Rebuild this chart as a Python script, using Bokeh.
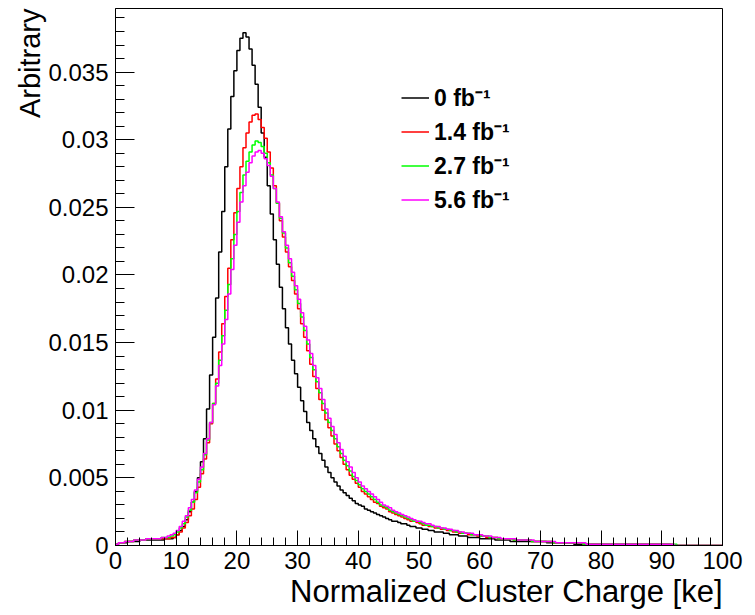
from bokeh.plotting import figure
from bokeh.models import (Range1d, SingleIntervalTicker, NumeralTickFormatter,
                          Legend, LegendItem, Title)
from bokeh.embed import file_html
from bokeh.resources import INLINE

# ---------------- data (normalised histograms, 0.5 ke bins from 0 to 100) ----
bin_width = 0.5
n_bins = 200
edges = [i * bin_width for i in range(n_bins + 1)]

labels = ["0 fb\u207b\u00b9", "1.4 fb\u207b\u00b9", "2.7 fb\u207b\u00b9", "5.6 fb\u207b\u00b9"]
colors = ["#000000", "#ff0000", "#00ff00", "#ff00ff"]

lumi_0 = [
    0.0001, 0.0002, 0.0002, 0.0002, 0.0003, 0.0003, 0.0003, 0.0003, 0.0004, 0.0004,
    0.0004, 0.0004, 0.0004, 0.0004, 0.0004, 0.0004, 0.0005, 0.0005, 0.0005, 0.0006,
    0.0008, 0.0011, 0.0014, 0.0019, 0.0025, 0.0032, 0.0040, 0.0050, 0.0062, 0.0079,
    0.0101, 0.0126, 0.0154, 0.0183, 0.0217, 0.0247, 0.0280, 0.0308, 0.0332, 0.0351,
    0.0366, 0.0375, 0.0379, 0.0376, 0.0367, 0.0355, 0.0341, 0.0324, 0.0305, 0.0287,
    0.0266, 0.0245, 0.0226, 0.0208, 0.0191, 0.0175, 0.0161, 0.0149, 0.0137, 0.0127,
    0.0117, 0.0107, 0.0099, 0.0091, 0.0085, 0.0079, 0.0073, 0.0068, 0.0063, 0.0058,
    0.0054, 0.0050, 0.0047, 0.0044, 0.0041, 0.0039, 0.0037, 0.0035, 0.0033, 0.0031,
    0.0030, 0.0029, 0.0027, 0.0026, 0.0025, 0.0024, 0.0023, 0.0022, 0.0021, 0.0020,
    0.0019, 0.0018, 0.0018, 0.0017, 0.0016, 0.0016, 0.0015, 0.0014, 0.0014, 0.0013,
    0.0013, 0.0012, 0.0012, 0.0011, 0.0011, 0.0010, 0.0010, 0.0010, 0.0009, 0.0009,
    0.0008, 0.0008, 0.0008, 0.0007, 0.0007, 0.0007, 0.0006, 0.0006, 0.0006, 0.0006,
    0.0005, 0.0005, 0.0005, 0.0005, 0.0005, 0.0004, 0.0004, 0.0004, 0.0004, 0.0004,
    0.0003, 0.0003, 0.0003, 0.0003, 0.0003, 0.0003, 0.0003, 0.0003, 0.0003, 0.0003,
    0.0003, 0.0003, 0.0002, 0.0002, 0.0002, 0.0002, 0.0002, 0.0002, 0.0002, 0.0002,
    0.0002, 0.0001, 0.0001, 0.0001, 0.0001, 0.0001, 0.0001, 0.0001, 0.0001, 0.0001,
    0.0001, 0.0001, 0.0001, 0.0001, 0.0001, 0.0001, 0.0001, 0.0001, 0.0001, 0.0001,
    0.0001, 0.0001, 0.0001, 0.0001, 0.0001, 0.0001, 0.0001, 0.0001, 0.0001, 0.0001,
    0.0001, 0.0001, 0.0001, 0.0000, 0.0000, 0.0000, 0.0000, 0.0000, 0.0000, 0.0000,
    0.0000, 0.0000, 0.0000, 0.0000, 0.0000, 0.0000, 0.0000, 0.0000, 0.0000, 0.0000,
]

lumi_1p4 = [
    0.0001, 0.0002, 0.0002, 0.0003, 0.0003, 0.0003, 0.0004, 0.0004, 0.0004, 0.0004,
    0.0005, 0.0005, 0.0005, 0.0005, 0.0005, 0.0005, 0.0005, 0.0005, 0.0006, 0.0006,
    0.0008, 0.0010, 0.0013, 0.0017, 0.0022, 0.0027, 0.0034, 0.0043, 0.0053, 0.0064,
    0.0076, 0.0090, 0.0105, 0.0123, 0.0143, 0.0164, 0.0184, 0.0205, 0.0226, 0.0246,
    0.0264, 0.0280, 0.0294, 0.0305, 0.0313, 0.0318, 0.0319, 0.0315, 0.0309, 0.0301,
    0.0291, 0.0279, 0.0266, 0.0253, 0.0240, 0.0228, 0.0217, 0.0206, 0.0196, 0.0186,
    0.0175, 0.0164, 0.0154, 0.0144, 0.0134, 0.0125, 0.0116, 0.0108, 0.0100, 0.0093,
    0.0087, 0.0081, 0.0075, 0.0070, 0.0065, 0.0060, 0.0056, 0.0052, 0.0049, 0.0046,
    0.0043, 0.0040, 0.0038, 0.0036, 0.0034, 0.0032, 0.0031, 0.0029, 0.0028, 0.0027,
    0.0025, 0.0024, 0.0023, 0.0022, 0.0021, 0.0020, 0.0019, 0.0018, 0.0018, 0.0017,
    0.0016, 0.0015, 0.0015, 0.0014, 0.0014, 0.0013, 0.0013, 0.0012, 0.0012, 0.0011,
    0.0011, 0.0010, 0.0010, 0.0009, 0.0009, 0.0009, 0.0008, 0.0008, 0.0008, 0.0007,
    0.0007, 0.0007, 0.0006, 0.0006, 0.0006, 0.0006, 0.0005, 0.0005, 0.0005, 0.0005,
    0.0005, 0.0004, 0.0004, 0.0004, 0.0004, 0.0004, 0.0004, 0.0003, 0.0003, 0.0003,
    0.0003, 0.0003, 0.0003, 0.0003, 0.0002, 0.0002, 0.0002, 0.0002, 0.0002, 0.0002,
    0.0002, 0.0002, 0.0002, 0.0002, 0.0001, 0.0001, 0.0001, 0.0001, 0.0001, 0.0001,
    0.0001, 0.0001, 0.0001, 0.0001, 0.0001, 0.0001, 0.0001, 0.0001, 0.0001, 0.0001,
    0.0001, 0.0001, 0.0001, 0.0001, 0.0001, 0.0001, 0.0001, 0.0001, 0.0001, 0.0001,
    0.0001, 0.0001, 0.0001, 0.0001, 0.0000, 0.0000, 0.0000, 0.0000, 0.0000, 0.0000,
    0.0000, 0.0000, 0.0000, 0.0000, 0.0000, 0.0000, 0.0000, 0.0000, 0.0000, 0.0000,
]

lumi_2p7 = [
    0.0001, 0.0002, 0.0002, 0.0003, 0.0003, 0.0003, 0.0004, 0.0004, 0.0004, 0.0004,
    0.0005, 0.0005, 0.0005, 0.0005, 0.0005, 0.0006, 0.0006, 0.0006, 0.0007, 0.0008,
    0.0010, 0.0013, 0.0016, 0.0021, 0.0026, 0.0032, 0.0039, 0.0047, 0.0056, 0.0067,
    0.0078, 0.0091, 0.0105, 0.0120, 0.0137, 0.0155, 0.0174, 0.0193, 0.0212, 0.0230,
    0.0247, 0.0261, 0.0274, 0.0284, 0.0291, 0.0296, 0.0299, 0.0298, 0.0295, 0.0290,
    0.0283, 0.0274, 0.0264, 0.0253, 0.0242, 0.0231, 0.0220, 0.0209, 0.0199, 0.0189,
    0.0179, 0.0169, 0.0159, 0.0149, 0.0139, 0.0130, 0.0121, 0.0113, 0.0105, 0.0098,
    0.0091, 0.0085, 0.0079, 0.0073, 0.0068, 0.0063, 0.0059, 0.0055, 0.0051, 0.0048,
    0.0045, 0.0042, 0.0040, 0.0038, 0.0036, 0.0034, 0.0032, 0.0030, 0.0029, 0.0028,
    0.0026, 0.0025, 0.0024, 0.0023, 0.0022, 0.0021, 0.0020, 0.0019, 0.0018, 0.0018,
    0.0017, 0.0016, 0.0015, 0.0015, 0.0014, 0.0014, 0.0013, 0.0013, 0.0012, 0.0012,
    0.0011, 0.0011, 0.0010, 0.0010, 0.0009, 0.0009, 0.0009, 0.0008, 0.0008, 0.0008,
    0.0007, 0.0007, 0.0007, 0.0006, 0.0006, 0.0006, 0.0005, 0.0005, 0.0005, 0.0005,
    0.0005, 0.0004, 0.0004, 0.0004, 0.0004, 0.0004, 0.0004, 0.0003, 0.0003, 0.0003,
    0.0003, 0.0003, 0.0003, 0.0003, 0.0002, 0.0002, 0.0002, 0.0002, 0.0002, 0.0002,
    0.0002, 0.0002, 0.0002, 0.0002, 0.0001, 0.0001, 0.0001, 0.0001, 0.0001, 0.0001,
    0.0001, 0.0001, 0.0001, 0.0001, 0.0001, 0.0001, 0.0001, 0.0001, 0.0001, 0.0001,
    0.0001, 0.0001, 0.0001, 0.0001, 0.0001, 0.0001, 0.0001, 0.0001, 0.0001, 0.0001,
    0.0001, 0.0001, 0.0001, 0.0001, 0.0001, 0.0000, 0.0000, 0.0000, 0.0000, 0.0000,
    0.0000, 0.0000, 0.0000, 0.0000, 0.0000, 0.0000, 0.0000, 0.0000, 0.0000, 0.0000,
]

lumi_5p6 = [
    0.0001, 0.0002, 0.0002, 0.0003, 0.0003, 0.0003, 0.0004, 0.0004, 0.0004, 0.0004,
    0.0005, 0.0005, 0.0005, 0.0005, 0.0005, 0.0006, 0.0006, 0.0007, 0.0008, 0.0009,
    0.0011, 0.0014, 0.0018, 0.0022, 0.0028, 0.0034, 0.0041, 0.0049, 0.0058, 0.0068,
    0.0079, 0.0091, 0.0104, 0.0118, 0.0133, 0.0149, 0.0167, 0.0186, 0.0204, 0.0222,
    0.0239, 0.0254, 0.0266, 0.0276, 0.0283, 0.0288, 0.0291, 0.0292, 0.0290, 0.0286,
    0.0281, 0.0273, 0.0264, 0.0254, 0.0243, 0.0232, 0.0222, 0.0212, 0.0202, 0.0192,
    0.0182, 0.0172, 0.0162, 0.0152, 0.0142, 0.0133, 0.0124, 0.0116, 0.0108, 0.0101,
    0.0094, 0.0088, 0.0082, 0.0076, 0.0071, 0.0066, 0.0062, 0.0058, 0.0054, 0.0050,
    0.0047, 0.0044, 0.0042, 0.0040, 0.0038, 0.0036, 0.0034, 0.0032, 0.0030, 0.0029,
    0.0028, 0.0026, 0.0025, 0.0024, 0.0023, 0.0022, 0.0021, 0.0020, 0.0019, 0.0018,
    0.0018, 0.0017, 0.0016, 0.0016, 0.0015, 0.0014, 0.0014, 0.0013, 0.0013, 0.0012,
    0.0012, 0.0011, 0.0011, 0.0010, 0.0010, 0.0009, 0.0009, 0.0009, 0.0008, 0.0008,
    0.0008, 0.0007, 0.0007, 0.0007, 0.0006, 0.0006, 0.0006, 0.0005, 0.0005, 0.0005,
    0.0005, 0.0005, 0.0004, 0.0004, 0.0004, 0.0004, 0.0004, 0.0004, 0.0003, 0.0003,
    0.0003, 0.0003, 0.0003, 0.0003, 0.0003, 0.0002, 0.0002, 0.0002, 0.0002, 0.0002,
    0.0002, 0.0002, 0.0002, 0.0002, 0.0002, 0.0001, 0.0001, 0.0001, 0.0001, 0.0001,
    0.0001, 0.0001, 0.0001, 0.0001, 0.0001, 0.0001, 0.0001, 0.0001, 0.0001, 0.0001,
    0.0001, 0.0001, 0.0001, 0.0001, 0.0001, 0.0001, 0.0001, 0.0001, 0.0001, 0.0001,
    0.0001, 0.0001, 0.0001, 0.0001, 0.0000, 0.0000, 0.0000, 0.0000, 0.0000, 0.0000,
    0.0000, 0.0000, 0.0000, 0.0000, 0.0000, 0.0000, 0.0000, 0.0000, 0.0000, 0.0000,
]

series = [lumi_0, lumi_1p4, lumi_2p7, lumi_5p6]

# ---------------- figure ----------------------------------------------------
FONT = "Liberation Sans"

p = figure(width=755, height=615, output_backend="svg", toolbar_location=None,
           title=None,
           x_range=Range1d(0, 100), y_range=Range1d(0, 0.0397),
           min_border_left=115, min_border_right=33,
           min_border_top=8, min_border_bottom=70)

p.background_fill_color = "white"
p.border_fill_color = "white"
p.outline_line_color = "black"
p.outline_line_width = 1
p.outline_line_alpha = 1
p.xgrid.visible = False
p.ygrid.visible = False

renderers = []
for vals, col in zip(series, colors):
    ys = vals + [vals[-1]]
    r = p.step(edges, ys, mode="after", line_color=col, line_width=1.5)
    renderers.append(r)

# axes
p.xaxis.ticker = SingleIntervalTicker(interval=10, num_minor_ticks=5)
p.yaxis.ticker = SingleIntervalTicker(interval=0.005, num_minor_ticks=5)
p.yaxis.formatter = NumeralTickFormatter(format="0.[000]")

for ax in (p.xaxis[0], p.yaxis[0]):
    ax.axis_line_color = "black"
    ax.axis_line_width = 1
    ax.major_tick_line_color = "black"
    ax.minor_tick_line_color = "black"
    ax.major_tick_out = 0
    ax.minor_tick_out = 0
    ax.major_label_text_font = FONT
    ax.major_label_text_font_size = "24px"
    ax.major_label_text_color = "black"

p.xaxis.major_tick_in = 15
p.xaxis.minor_tick_in = 8
p.xaxis.major_label_standoff = 6
p.yaxis.major_tick_in = 19
p.yaxis.minor_tick_in = 9
p.yaxis.major_label_standoff = 7

# axis titles (right/top aligned as in ROOT)
p.add_layout(Title(text="Arbitrary", align="right", text_font=FONT,
                   text_font_size="29px", text_font_style="normal",
                   text_color="black", standoff=0), "left")
p.add_layout(Title(text="Normalized Cluster Charge [ke]", align="right",
                   text_font=FONT, text_font_size="31px",
                   text_font_style="normal", text_color="black",
                   standoff=0), "below")

# legend
legend = Legend(items=[LegendItem(label=lab, renderers=[r])
                       for lab, r in zip(labels, renderers)],
                location=(286, 330), orientation="vertical",
                label_text_font=FONT, label_text_font_size="23px",
                label_text_font_style="bold", label_text_color="black",
                glyph_width=28, glyph_height=27, label_height=27,
                label_standoff=5, spacing=2, padding=0, margin=0,
                border_line_alpha=0, background_fill_alpha=0)
p.add_layout(legend)

open("out.html", "w").write(file_html(p, INLINE))
